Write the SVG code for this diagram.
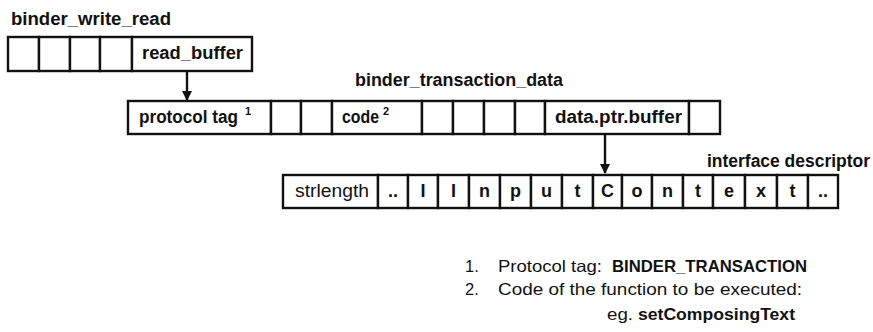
<svg xmlns="http://www.w3.org/2000/svg" width="873" height="332" viewBox="0 0 873 332">
<style>
.cell{fill:#fff;stroke:#111;stroke-width:2.4}
.t{font-family:"Liberation Sans",Arial,sans-serif;font-size:17.5px;fill:#111}
.b{font-weight:bold}
.c{text-anchor:middle;font-weight:bold;font-size:18px}
.lg{font-size:16.5px}
.sup{font-family:"Liberation Sans",Arial,sans-serif;font-size:11px;font-weight:bold;fill:#111}
.conn{stroke:#111;stroke-width:2.4;fill:none}
</style>
<defs>
<marker id="ah" markerWidth="10" markerHeight="10" refX="9" refY="5" orient="auto" markerUnits="userSpaceOnUse">
<path d="M0,0 L10,5 L0,10 Z" fill="#111"/>
</marker>
</defs>
<rect width="873" height="332" fill="#fff"/>

<g id="binder_write_read">
<text class="t b" x="11" y="25" textLength="160" lengthAdjust="spacingAndGlyphs">binder_write_read</text>
<rect class="cell" x="8" y="37" width="31" height="34"/>
<rect class="cell" x="39" y="37" width="31" height="34"/>
<rect class="cell" x="70" y="37" width="30" height="34"/>
<rect class="cell" x="100" y="37" width="32" height="34"/>
<rect class="cell" x="132" y="37" width="120" height="34"/>
<text class="t b" x="142" y="59" textLength="101" lengthAdjust="spacingAndGlyphs">read_buffer</text>
</g>

<g id="binder_transaction_data">
<text class="t b" x="355" y="86" textLength="208" lengthAdjust="spacingAndGlyphs">binder_transaction_data</text>
<rect class="cell" x="128" y="101" width="143" height="33"/>
<rect class="cell" x="271" y="101" width="30" height="33"/>
<rect class="cell" x="301" y="101" width="31" height="33"/>
<rect class="cell" x="332" y="101" width="90" height="33"/>
<rect class="cell" x="422" y="101" width="31" height="33"/>
<rect class="cell" x="453" y="101" width="31" height="33"/>
<rect class="cell" x="484" y="101" width="31" height="33"/>
<rect class="cell" x="515" y="101" width="30" height="33"/>
<rect class="cell" x="545" y="101" width="144" height="33"/>
<rect class="cell" x="689" y="101" width="31" height="33"/>
<text class="t b" x="139" y="123" textLength="99" lengthAdjust="spacingAndGlyphs">protocol tag</text>
<text class="sup" x="245" y="115">1</text>
<text class="t b" x="342" y="123" textLength="37" lengthAdjust="spacingAndGlyphs">code</text>
<text class="sup" x="383" y="115">2</text>
<text class="t b" x="555" y="123" textLength="127" lengthAdjust="spacingAndGlyphs">data.ptr.buffer</text>
</g>

<g id="interface_descriptor">
<text class="t b" x="707" y="167" textLength="163" lengthAdjust="spacingAndGlyphs">interface descriptor</text>
<rect class="cell" x="283" y="175" width="95" height="33"/>
<rect class="cell" x="378" y="175" width="30" height="33"/>
<rect class="cell" x="408" y="175" width="30" height="33"/>
<rect class="cell" x="438" y="175" width="31" height="33"/>
<rect class="cell" x="469" y="175" width="31" height="33"/>
<rect class="cell" x="500" y="175" width="31" height="33"/>
<rect class="cell" x="531" y="175" width="31" height="33"/>
<rect class="cell" x="562" y="175" width="31" height="33"/>
<rect class="cell" x="593" y="175" width="29" height="33"/>
<rect class="cell" x="622" y="175" width="30" height="33"/>
<rect class="cell" x="652" y="175" width="31" height="33"/>
<rect class="cell" x="683" y="175" width="30" height="33"/>
<rect class="cell" x="713" y="175" width="32" height="33"/>
<rect class="cell" x="745" y="175" width="32" height="33"/>
<rect class="cell" x="777" y="175" width="31" height="33"/>
<rect class="cell" x="808" y="175" width="30" height="33"/>
<text class="t" x="295" y="197" textLength="74" lengthAdjust="spacingAndGlyphs">strlength</text>
<text class="t c" x="393" y="197">..</text>
<text class="t c" x="423" y="197">I</text>
<text class="t c" x="453.5" y="197">I</text>
<text class="t c" x="484.5" y="197">n</text>
<text class="t c" x="515.5" y="197">p</text>
<text class="t c" x="546.5" y="197">u</text>
<text class="t c" x="577.5" y="197">t</text>
<text class="t c" x="607.5" y="197">C</text>
<text class="t c" x="637" y="197">o</text>
<text class="t c" x="667.5" y="197">n</text>
<text class="t c" x="698" y="197">t</text>
<text class="t c" x="729" y="197">e</text>
<text class="t c" x="761" y="197">x</text>
<text class="t c" x="792.5" y="197">t</text>
<text class="t c" x="823" y="197">..</text>
</g>

<g id="legend">
<text class="t lg" x="465" y="272">1.</text>
<text class="t lg" x="498" y="272" textLength="104" lengthAdjust="spacingAndGlyphs">Protocol tag:</text>
<text class="t lg b" x="612" y="272" textLength="195" lengthAdjust="spacingAndGlyphs">BINDER_TRANSACTION</text>
<text class="t lg" x="465" y="295">2.</text>
<text class="t lg" x="498" y="295" textLength="304" lengthAdjust="spacingAndGlyphs">Code of the function to be executed:</text>
<text class="t lg" x="607" y="320" textLength="26" lengthAdjust="spacingAndGlyphs">eg.</text>
<text class="t lg b" x="638" y="320" textLength="157" lengthAdjust="spacingAndGlyphs">setComposingText</text>
</g>

<g id="connectors">
<line class="conn" x1="187" y1="71" x2="187" y2="100" marker-end="url(#ah)"/>
<line class="conn" x1="605" y1="134" x2="605" y2="173" marker-end="url(#ah)"/>
</g>
</svg>
